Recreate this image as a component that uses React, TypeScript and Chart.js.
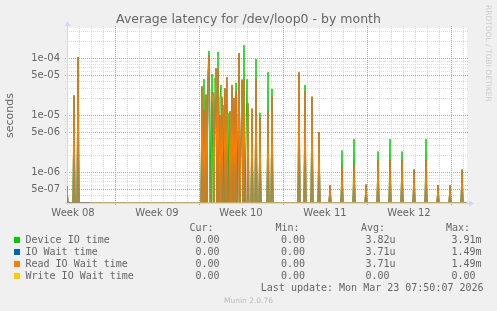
import React, { useEffect, useRef } from "react";
import { Chart, registerables } from "chart.js";

Chart.register(...registerables);

// ---------- text ----------
const TITLE = "Average latency for /dev/loop0 - by month";
const Y_TITLE = "seconds";
const WATERMARK = "RRDTOOL / TOBI OETIKER";
const LAST_UPDATE = "Last update: Mon Mar 23 07:50:07 2026";
const FOOTER = "Munin 2.0.76";

// ---------- axes (x in hours since Mon 16 Feb 2026 00:00) ----------
const X_MIN_HOURS = 72;
const X_MAX_HOURS = 872;
const WEEK_LABELS = ["Week 08", "Week 09", "Week 10", "Week 11", "Week 12"];
const WEEK_MID_HOURS = [84, 252, 420, 588, 756];
const Y_MIN = 2.86e-7;
const Y_MAX = 3.4e-4;
const Y_TICK_VALUES = [1e-4, 5e-5, 1e-5, 5e-6, 1e-6, 5e-7];
const Y_TICK_LABELS = ["1e-04", "5e-05", "1e-05", "5e-06", "1e-06", "5e-07"];

// ---------- series ----------
const sampleHours = [
  70, 72, 74, 84, 86, 88, 92, 94, 96,
  340, 342, 344, 346, 348, 350, 352, 354, 356, 358, 360, 362, 364, 366, 368, 370,
  372, 374, 376, 378, 380, 382, 384, 386, 388, 390, 392, 394, 396, 398, 400,
  402, 404, 406, 408, 410, 412, 414, 416, 418, 422, 424, 426, 428, 432, 434,
  436, 440, 442, 444, 448, 450, 452, 456, 458, 460, 472, 474, 476, 480, 482, 484,
  534, 536, 538, 546, 548, 550, 560, 562, 564, 574, 576, 578,
  596, 598, 600, 620, 622, 624, 644, 646, 648, 668, 670, 672, 692, 694, 696,
  716, 718, 720, 740, 742, 744, 764, 766, 768, 788, 790, 792, 812, 814, 816,
  836, 838, 840, 860, 862, 864, 872,
];
const deviceIoTime = [
  0, 5.6e-7, 0, 0, 2.2e-5, 0, 0, 1.03e-4, 0,
  0, 3.0e-5, 0, 4.3e-5, 0, 1.8e-5, 0, 6.0e-5, 1.34e-4, 1.2e-5, 0, 5.3e-5, 0, 0, 4.5e-5, 2.0e-5,
  0, 1.3e-4, 0, 2.0e-5, 3.4e-5, 0, 1.5e-5, 0, 2.9e-5, 0, 1.5e-5, 0, 1.1e-5, 0, 0,
  3.0e-5, 0, 1.5e-5, 0, 3.7e-5, 0, 1.1e-5, 1.2e-4, 0, 4.0e-5, 0, 1.7e-4, 0, 4.3e-5, 0,
  0, 0, 1.0e-5, 0, 0, 9.7e-5, 0, 0, 1.1e-5, 0, 0, 5.7e-5, 0, 0, 2.9e-5, 0,
  0, 5.6e-5, 0, 0, 3.4e-5, 0, 0, 2.1e-5, 0, 0, 5.0e-6, 0,
  0, 5.8e-7, 0, 0, 2.4e-6, 0, 0, 3.8e-6, 0, 0, 6.0e-7, 0, 0, 2.3e-6, 0,
  0, 3.8e-6, 0, 0, 2.3e-6, 0, 0, 1.1e-6, 0, 0, 3.8e-6, 0, 0, 5.8e-7, 0,
  0, 5.8e-7, 0, 0, 1.1e-6, 0, 0,
];
const readIoWaitTime = [
  0, 5.6e-7, 0, 0, 2.2e-5, 0, 0, 1.03e-4, 0,
  0, 3.2e-5, 0, 1.2e-5, 0, 2.3e-5, 0, 4.0e-5, 1.1e-4, 0, 0, 1.5e-5, 2.5e-5, 0, 1.1e-5, 6.7e-5,
  0, 6.5e-5, 0, 1.0e-5, 0, 2.1e-5, 0, 0, 3.0e-5, 0, 4.6e-5, 0, 0, 1.16e-5, 0,
  3.4e-5, 0, 2.0e-5, 0, 2.5e-5, 0, 0, 1.22e-4, 0, 4.2e-5, 0, 4.3e-5, 0, 0, 1.6e-5,
  0, 0, 1.3e-5, 0, 0, 4.3e-5, 0, 0, 8.8e-6, 0, 0, 1.16e-5, 0, 0, 2.1e-5, 0,
  0, 5.6e-5, 0, 0, 2.6e-5, 0, 0, 2.1e-5, 0, 0, 5.0e-6, 0,
  0, 5.8e-7, 0, 0, 1.2e-6, 0, 0, 1.35e-6, 0, 0, 6.0e-7, 0, 0, 1.6e-6, 0,
  0, 1.6e-6, 0, 0, 1.6e-6, 0, 0, 1.1e-6, 0, 0, 1.6e-6, 0, 0, 5.8e-7, 0,
  0, 5.8e-7, 0, 0, 1.1e-6, 0, 0,
];
// IO wait time equals read IO wait time (blue lies under orange)
const ioWaitTime = [...readIoWaitTime];
const writeHours = [118, 872];
const writeIoWaitTime = [0, 0];

// ---------- legend ----------
const LEGEND_LABELS = ["Device IO time", "IO Wait time", "Read IO Wait time", "Write IO Wait time"];
const LEGEND_COLORS = ["#00CC00", "#0066B3", "#FF8000", "#FFCC00"];
const CUR_VALUES = ["0.00", "0.00", "0.00", "0.00"];
const MIN_VALUES = ["0.00", "0.00", "0.00", "0.00"];
const AVG_VALUES = ["3.82u", "3.71u", "3.71u", "0.00"];
const MAX_VALUES = ["3.91m", "1.49m", "1.49m", "0.00"];

const GRID_GRAY = "rgba(191,191,191,0.55)";
const GRID_RED = "rgba(230,115,115,0.8)";
const AXIS_COLOR = "#CFD6F8";
const TEXT_COLOR = "#666666";

const bgPlugin = {
  id: "plotBg",
  beforeDraw(chart: any) {
    const { ctx, chartArea } = chart;
    ctx.save();
    ctx.fillStyle = "#F0F0F0";
    ctx.fillRect(0, 0, chart.width, chart.height);
    ctx.fillStyle = "#FFFFFF";
    ctx.fillRect(chartArea.left, chartArea.top, chartArea.right - chartArea.left, chartArea.bottom - chartArea.top);
    ctx.restore();
  },
};

const gridPlugin = {
  id: "rrdGrid",
  beforeDatasetsDraw(chart: any) {
    const { ctx, chartArea } = chart;
    const { left, right, top, bottom } = chartArea;
    const xs = chart.scales.x;
    const ys = chart.scales.y;
    ctx.save();
    ctx.lineWidth = 1;
    ctx.setLineDash([1, 1]);
    const passes = [false, true];
    for (const major of passes) {
      ctx.strokeStyle = major ? GRID_RED : GRID_GRAY;
      const eMin = Math.floor(Math.log10(ys.min));
      const eMax = Math.ceil(Math.log10(ys.max));
      for (let e = eMin; e <= eMax; e++) {
        for (let m = 1; m <= 9; m++) {
          const v = m * Math.pow(10, e);
          if (v < ys.min || v > ys.max) continue;
          const isMajor = m === 1 || m === 5;
          if (isMajor !== major) continue;
          const py = Math.round(ys.getPixelForValue(v)) + 0.5;
          ctx.beginPath();
          ctx.moveTo(left - 2, py);
          ctx.lineTo(right + 2, py);
          ctx.stroke();
        }
      }
      for (let h = Math.ceil(xs.min / 24) * 24; h <= xs.max; h += 24) {
        const isMajor = h % 168 === 0;
        if (isMajor !== major) continue;
        const px = Math.round(xs.getPixelForValue(h)) + 0.5;
        ctx.beginPath();
        ctx.moveTo(px, top - 2);
        ctx.lineTo(px, bottom + (isMajor ? 3 : 0));
        ctx.stroke();
      }
    }
    ctx.setLineDash([]);
    ctx.strokeStyle = AXIS_COLOR;
    ctx.fillStyle = AXIS_COLOR;
    const ax = left + 0.5;
    const ay = bottom + 0.5;
    ctx.beginPath();
    ctx.moveTo(ax, bottom + 2);
    ctx.lineTo(ax, top - 2);
    ctx.moveTo(left - 2, ay);
    ctx.lineTo(right + 2, ay);
    ctx.stroke();
    ctx.beginPath();
    ctx.moveTo(ax - 3, top - 2);
    ctx.lineTo(ax + 3, top - 2);
    ctx.lineTo(ax, top - 7);
    ctx.closePath();
    ctx.fill();
    ctx.beginPath();
    ctx.moveTo(right + 2, ay - 3);
    ctx.lineTo(right + 2, ay + 3);
    ctx.lineTo(right + 7, ay);
    ctx.closePath();
    ctx.fill();
    ctx.restore();
  },
};

function toPoints(xsArr: number[], ysArr: number[]) {
  return xsArr.map((h, i) => ({ x: h, y: ysArr[i] }));
}

export default function App() {
  const canvasRef = useRef<HTMLCanvasElement | null>(null);

  useEffect(() => {
    const canvas = canvasRef.current;
    if (!canvas) return;
    const lineBase = {
      borderWidth: 1,
      pointRadius: 0,
      tension: 0,
      fill: false,
      borderJoinStyle: "round" as const,
    };
    const chart = new Chart(canvas, {
      type: "line",
      data: {
        datasets: [
          { ...lineBase, label: LEGEND_LABELS[0], data: toPoints(sampleHours, deviceIoTime), borderColor: LEGEND_COLORS[0], order: 4 },
          { ...lineBase, label: LEGEND_LABELS[1], data: toPoints(sampleHours, ioWaitTime), borderColor: LEGEND_COLORS[1], order: 3 },
          { ...lineBase, label: LEGEND_LABELS[2], data: toPoints(sampleHours, readIoWaitTime), borderColor: LEGEND_COLORS[2], order: 2 },
          { ...lineBase, label: LEGEND_LABELS[3], data: toPoints(writeHours, writeIoWaitTime), borderColor: LEGEND_COLORS[3], order: 1 },
        ],
      },
      options: {
        animation: false,
        responsive: false,
        devicePixelRatio: 1,
        parsing: false,
        layout: { padding: { left: 0, right: 30, top: 28, bottom: 0 } },
        plugins: {
          legend: { display: false },
          title: { display: false },
          tooltip: { enabled: false },
        },
        scales: {
          x: {
            type: "linear",
            min: X_MIN_HOURS,
            max: X_MAX_HOURS,
            grid: { display: false, drawTicks: false },
            border: { display: false },
            afterBuildTicks: (s: any) => {
              s.ticks = WEEK_MID_HOURS.map((v) => ({ value: v }));
            },
            afterFit: (s: any) => {
              s.height = 108;
            },
            ticks: {
              autoSkip: false,
              maxRotation: 0,
              padding: 4,
              color: TEXT_COLOR,
              font: { family: "DejaVu Sans", size: 10 },
              callback: (_v: any, i: number) => WEEK_LABELS[i],
            },
          },
          y: {
            type: "logarithmic",
            min: Y_MIN,
            max: Y_MAX,
            grid: { display: false, drawTicks: false },
            border: { display: false },
            afterBuildTicks: (s: any) => {
              s.ticks = Y_TICK_VALUES.map((v) => ({ value: v }));
            },
            afterFit: (s: any) => {
              s.width = 67;
            },
            ticks: {
              autoSkip: false,
              padding: 7,
              color: TEXT_COLOR,
              font: { family: "DejaVu Sans", size: 10 },
              callback: (_v: any, i: number) => Y_TICK_LABELS[i],
            },
            title: {
              display: true,
              text: Y_TITLE,
              color: TEXT_COLOR,
              font: { family: "DejaVu Sans", size: 11 },
              padding: { top: 4, bottom: 0 },
            },
          },
        },
      } as any,
      plugins: [bgPlugin, gridPlugin],
    });
    return () => chart.destroy();
  }, []);

  const mono = "10px 'DejaVu Sans Mono', monospace";
  const abs = (left: number, top: number, extra: any = {}) => ({
    position: "absolute" as const,
    left,
    top,
    font: mono,
    lineHeight: "10px",
    color: TEXT_COLOR,
    whiteSpace: "pre" as const,
    ...extra,
  });
  const rowTop = [234.5, 246.5, 258.5, 270.5];

  return (
    <div style={{ position: "fixed", left: 0, top: 0, width: 497, height: 311, background: "#F0F0F0", overflow: "hidden" }}>
      <canvas ref={canvasRef} width={497} height={311} style={{ position: "absolute", left: 0, top: 0, width: 497, height: 311 }} />
      <div style={{ position: "absolute", left: 0, top: 13.4, width: 497, textAlign: "center", font: "12.5px 'DejaVu Sans'", lineHeight: "12.5px", color: TEXT_COLOR, whiteSpace: "pre" }}>
        {TITLE}
      </div>
      <div style={{ position: "absolute", left: 484, top: 5, writingMode: "vertical-rl", font: "7.5px 'DejaVu Sans'", lineHeight: "9px", color: "#CCCCCC", whiteSpace: "pre" }}>
        {WATERMARK}
      </div>
      <div style={abs(189.5, 222.5)}>Cur:</div>
      <div style={abs(275.5, 222.5)}>Min:</div>
      <div style={abs(361, 222.5)}>Avg:</div>
      <div style={abs(446, 222.5)}>Max:</div>
      {LEGEND_LABELS.map((label, i) => (
        <React.Fragment key={label}>
          <div style={{ position: "absolute", left: 14, top: rowTop[i] + 2.5, width: 6, height: 6, background: LEGEND_COLORS[i] }} />
          <div style={abs(25.5, rowTop[i])}>{label}</div>
          <div style={abs(195.5, rowTop[i])}>{CUR_VALUES[i]}</div>
          <div style={abs(281, rowTop[i])}>{MIN_VALUES[i]}</div>
          <div style={abs(365.5, rowTop[i])}>{AVG_VALUES[i]}</div>
          <div style={abs(451.5, rowTop[i])}>{MAX_VALUES[i]}</div>
        </React.Fragment>
      ))}
      <div style={abs(260.8, 282.5)}>{LAST_UPDATE}</div>
      <div style={{ position: "absolute", left: 0, top: 296.7, width: 497, textAlign: "center", font: "7.5px 'DejaVu Sans'", lineHeight: "7.5px", color: "#BBBBBB", whiteSpace: "pre" }}>
        {FOOTER}
      </div>
    </div>
  );
}
